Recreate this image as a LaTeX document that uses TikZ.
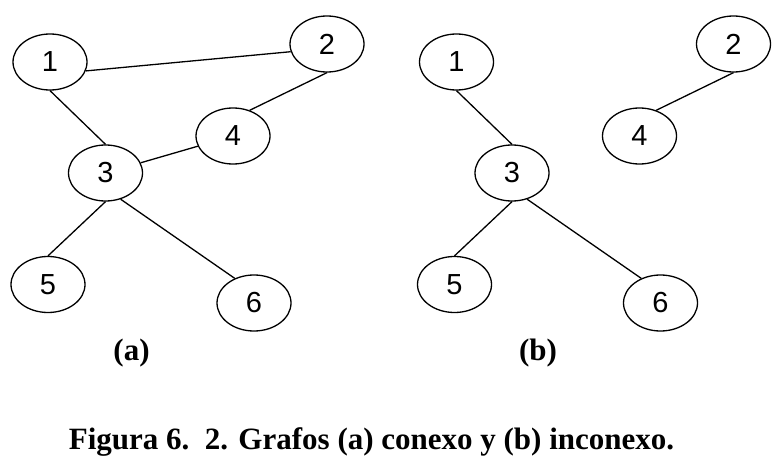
\documentclass[tikz,border=0pt]{standalone}
\usepackage{fontspec}
\setmainfont{Liberation Serif}
\newfontfamily\numfont{Liberation Sans}
\usepackage{tikz}
\usetikzlibrary{shapes.geometric}

\begin{document}
\begin{tikzpicture}[x=1pt, y=-1pt,
    vertex/.style={draw, ellipse, line width=1.3pt, minimum width=74pt,
        minimum height=56pt, inner sep=0pt,
        font=\numfont\fontsize{29}{32}\selectfont},
    edge/.style={line width=1.3pt},
    sublabel/.style={anchor=base, font=\bfseries\fontsize{31}{35}\selectfont}]
    \useasboundingbox (0,0) rectangle (783,473);
    % the same six vertices in (a) and (b)
    \foreach \g/\dx in {a/0, b/406.5} {
        \node[vertex] (\g1) at (50+\dx,62) {1};
        \node[vertex] (\g2) at (327+\dx,44) {2};
        \node[vertex] (\g3) at (105.5+\dx,173) {3};
        \node[vertex] (\g4) at (233+\dx,136) {4};
        \node[vertex] (\g5) at (48+\dx,284.5) {5};
        \node[vertex] (\g6) at (254+\dx,303) {6};
    }
    % (a) connected
    \draw[edge] (a1.-14) -- (a2.-168);
    \draw[edge] (a1.south) -- (a3.north);
    \draw[edge] (a2.south) -- (a4.57);
    \draw[edge] (a4) -- (a3);
    \draw[edge] (a3.south) -- (a5.north);
    \draw[edge] (a3.-60) -- (a6.128);
    % (b) disconnected
    \draw[edge] (b1.south) -- (b3.north);
    \draw[edge] (b2.south) -- (b4.57);
    \draw[edge] (b3.south) -- (b5.north);
    \draw[edge] (b3.-60) -- (b6.128);
    \node[sublabel] (la) at (131.5,360) {(a)};
    \node[sublabel] (lb) at (538,360) {(b)};
    \node[sublabel] (cap) at (371.5,449) {Figura 6.\ \ 2. Grafos (a) conexo y (b) inconexo.};
\end{tikzpicture}
\end{document}
